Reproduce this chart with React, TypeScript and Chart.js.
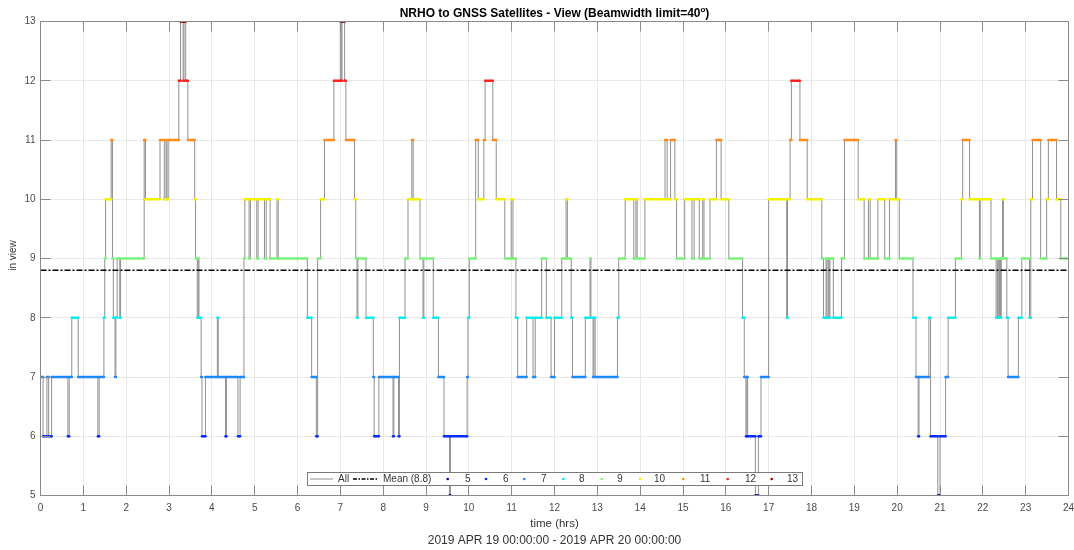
import React, { useEffect, useRef } from 'react';
import { Chart, registerables } from 'chart.js';

Chart.register(...registerables);

// ---------- data ----------
// start time (hours) of each constant-count run, and the count of satellites in view during it
const runStart = [
  0.00, 0.06, 0.15, 0.19, 0.26, 0.64, 0.67, 0.73, 0.88, 1.34, 1.37, 1.48, 1.50, 1.52, 1.65, 1.68, 1.70, 1.74, 1.76, 1.79,
  1.85, 1.87, 2.42, 2.45, 2.79, 2.89, 2.93, 2.95, 2.98, 3.23, 3.27, 3.33, 3.35, 3.39, 3.44, 3.60, 3.62, 3.66, 3.68, 3.70,
  3.75, 3.77, 3.85, 4.13, 4.15, 4.32, 4.34, 4.61, 4.66, 4.75, 4.77, 4.87, 4.90, 5.05, 5.08, 5.23, 5.27, 5.36, 5.52, 5.55,
  6.23, 6.33, 6.44, 6.47, 6.54, 6.63, 6.85, 7.00, 7.02, 7.04, 7.10, 7.13, 7.33, 7.36, 7.39, 7.41, 7.60, 7.77, 7.79, 7.90,
  8.23, 8.25, 8.36, 8.38, 8.51, 8.58, 8.67, 8.70, 8.86, 8.93, 8.95, 9.17, 9.29, 9.42, 9.55, 9.57, 9.96, 9.98, 10.01, 10.16,
  10.22, 10.35, 10.38, 10.56, 10.64, 10.84, 10.99, 11.03, 11.10, 11.14, 11.35, 11.50, 11.55, 11.70, 11.81, 11.92, 12.00, 12.17, 12.27, 12.30,
  12.39, 12.42, 12.72, 12.83, 12.85, 12.90, 12.92, 12.95, 13.47, 13.50, 13.65, 13.85, 13.90, 13.93, 14.11, 14.58, 14.63, 14.71, 14.81, 14.85,
  15.04, 15.21, 15.26, 15.38, 15.46, 15.49, 15.63, 15.78, 15.89, 16.07, 16.39, 16.43, 16.47, 16.49, 16.51, 16.69, 16.76, 16.82, 17.00, 17.42,
  17.44, 17.50, 17.53, 17.73, 17.90, 18.24, 18.28, 18.34, 18.36, 18.39, 18.41, 18.43, 18.51, 18.70, 18.77, 19.09, 19.23, 19.33, 19.37, 19.55,
  19.71, 19.82, 19.96, 19.98, 20.05, 20.37, 20.44, 20.49, 20.51, 20.74, 20.78, 20.95, 21.00, 21.13, 21.19, 21.36, 21.50, 21.53, 21.69, 21.92,
  21.94, 22.19, 22.31, 22.34, 22.36, 22.39, 22.41, 22.43, 22.46, 22.48, 22.56, 22.59, 22.83, 22.91, 23.09, 23.12, 23.16, 23.35, 23.49, 23.53,
  23.72, 23.82,
];
const runLevel = [
  7, 6, 7, 6, 7, 6, 7, 8, 7, 6, 7, 8, 9, 10, 11, 9, 8, 7, 8, 9,
  8, 9, 11, 10, 11, 10, 11, 10, 11, 12, 13, 12, 13, 12, 11, 10, 9, 8, 9, 8,
  7, 6, 7, 8, 7, 6, 7, 6, 7, 9, 10, 9, 10, 9, 10, 9, 10, 9, 10, 9,
  8, 7, 6, 9, 10, 11, 12, 13, 12, 13, 12, 11, 10, 9, 8, 9, 8, 7, 6, 7,
  6, 7, 6, 8, 9, 10, 11, 10, 9, 8, 9, 8, 7, 6, 5, 6, 7, 8, 9, 11,
  10, 11, 12, 11, 10, 9, 10, 9, 8, 7, 8, 7, 8, 9, 8, 7, 8, 9, 10, 9,
  8, 7, 8, 9, 8, 7, 8, 7, 8, 9, 10, 9, 10, 9, 10, 11, 10, 11, 10, 9,
  10, 9, 10, 9, 10, 9, 10, 11, 10, 9, 8, 7, 6, 7, 6, 5, 6, 7, 10, 8,
  10, 11, 12, 11, 10, 9, 8, 9, 8, 9, 8, 9, 8, 9, 11, 10, 9, 10, 9, 10,
  9, 10, 11, 10, 9, 8, 7, 6, 7, 8, 6, 5, 6, 7, 8, 9, 10, 11, 10, 9,
  10, 9, 8, 9, 8, 9, 8, 9, 10, 9, 8, 7, 8, 9, 8, 10, 11, 9, 10, 11,
  10, 9,
];
const endTime = 24;
const meanValue = 8.8;
const levels = [5, 6, 7, 8, 9, 10, 11, 12, 13];
const levelColors = ['#0000a8', '#0a2bff', '#1e88ff', '#00eeee', '#7cf27c', '#f2f200', '#ff8c1a', '#ff2020', '#a00000'];
const xTickValues = [0, 1, 2, 3, 4, 5, 6, 7, 8, 9, 10, 11, 12, 13, 14, 15, 16, 17, 18, 19, 20, 21, 22, 23, 24];
const yTickValues = [5, 6, 7, 8, 9, 10, 11, 12, 13];
const titleMain = 'NRHO to GNSS Satellites - View (Beamwidth limit=40';
const titleSup = 'o';
const titleEnd = ')';
const xLabel = 'time (hrs)';
const xSubLabel = '2019 APR 19 00:00:00 - 2019 APR 20 00:00:00';
const yLabel = 'in view';
const allLabel = 'All';
const meanLabel = `Mean (${meanValue.toFixed(1)})`;

// ---------- styling ----------
const FONT = "'Liberation Sans', Arial, Helvetica, sans-serif";
const AXIS_COLOR = '#8a8a8a';
const TEXT_COLOR = '#333333';
const TICK_TEXT = '#4a4a4a';
const GRID_COLOR = '#e8e8e8';
const ALL_COLOR = '#8f8f8f';
const TICK_LEN = 10;

const decorPlugin = {
  id: 'matlabDecor',
  afterDraw(chart: any) {
    const { ctx, chartArea: a, scales } = chart;
    const xs = scales.x;
    const ys = scales.y;
    const align = (p: number) => Math.round(p - 0.5) + 0.5;
    ctx.save();

    // axes box
    ctx.strokeStyle = AXIS_COLOR;
    ctx.lineWidth = 1;
    ctx.strokeRect(a.left, a.top, a.right - a.left, a.bottom - a.top);

    // inward ticks on all four sides
    ctx.beginPath();
    xTickValues.forEach((v) => {
      const px = align(xs.getPixelForValue(v));
      ctx.moveTo(px, a.bottom);
      ctx.lineTo(px, a.bottom - TICK_LEN);
      ctx.moveTo(px, a.top);
      ctx.lineTo(px, a.top + TICK_LEN);
    });
    yTickValues.forEach((v) => {
      const py = align(ys.getPixelForValue(v));
      ctx.moveTo(a.left, py);
      ctx.lineTo(a.left + TICK_LEN, py);
      ctx.moveTo(a.right, py);
      ctx.lineTo(a.right - TICK_LEN, py);
    });
    ctx.stroke();

    // tick labels
    ctx.fillStyle = TICK_TEXT;
    ctx.font = `10px ${FONT}`;
    ctx.textAlign = 'center';
    ctx.textBaseline = 'middle';
    xTickValues.forEach((v) => {
      ctx.fillText(String(v), xs.getPixelForValue(v), a.bottom + 13);
    });
    ctx.textAlign = 'right';
    yTickValues.forEach((v) => {
      ctx.fillText(String(v), a.left - 5, ys.getPixelForValue(v));
    });

    // title with superscript degree mark
    const cx = (a.left + a.right) / 2;
    ctx.fillStyle = '#000000';
    ctx.textBaseline = 'alphabetic';
    ctx.textAlign = 'left';
    ctx.font = `bold 12px ${FONT}`;
    const w1 = ctx.measureText(titleMain).width;
    const w3 = ctx.measureText(titleEnd).width;
    ctx.font = `bold 8px ${FONT}`;
    const w2 = ctx.measureText(titleSup).width;
    let tx = cx - (w1 + w2 + w3) / 2;
    const ty = 17;
    ctx.font = `bold 12px ${FONT}`;
    ctx.fillText(titleMain, tx, ty);
    tx += w1;
    ctx.font = `bold 8px ${FONT}`;
    ctx.fillText(titleSup, tx, ty - 5);
    tx += w2;
    ctx.font = `bold 12px ${FONT}`;
    ctx.fillText(titleEnd, tx, ty);

    // axis labels
    ctx.fillStyle = TEXT_COLOR;
    ctx.textAlign = 'center';
    ctx.textBaseline = 'middle';
    ctx.font = `11.5px ${FONT}`;
    ctx.fillText(xLabel, cx, 524);
    ctx.font = `12px ${FONT}`;
    ctx.fillText(xSubLabel, cx, 541);
    ctx.save();
    ctx.translate(13, (a.top + a.bottom) / 2 - 3);
    ctx.rotate(-Math.PI / 2);
    ctx.font = `10px ${FONT}`;
    ctx.fillText(yLabel, 0, 0);
    ctx.restore();

    // legend (inside the axes, bottom centre)
    const bx = 307.5, by = 472.5, bw = 495, bh = 13;
    const cy = by + bh / 2;
    ctx.fillStyle = '#ffffff';
    ctx.fillRect(bx, by, bw, bh);
    ctx.strokeStyle = '#7a7a7a';
    ctx.lineWidth = 1;
    ctx.strokeRect(bx, by, bw, bh);

    ctx.font = `10px ${FONT}`;
    ctx.textAlign = 'left';
    ctx.textBaseline = 'middle';
    // All
    ctx.strokeStyle = ALL_COLOR;
    ctx.lineWidth = 1;
    ctx.beginPath();
    ctx.moveTo(310, cy);
    ctx.lineTo(333, cy);
    ctx.stroke();
    ctx.fillStyle = TEXT_COLOR;
    ctx.fillText(allLabel, 338, cy + 0.5);
    // Mean
    ctx.strokeStyle = '#000000';
    ctx.lineWidth = 1.5;
    ctx.setLineDash([4, 1.5, 1.5, 1.5]);
    ctx.beginPath();
    ctx.moveTo(353, cy);
    ctx.lineTo(378, cy);
    ctx.stroke();
    ctx.setLineDash([]);
    ctx.fillText(meanLabel, 383, cy + 0.5);
    // levels
    const dotX = [447.7, 486, 524.3, 563.3, 601.7, 640, 683.3, 727.7, 771.7];
    const textX = [465, 503, 541, 579, 617, 654, 700, 745, 787];
    levels.forEach((lv, i) => {
      ctx.fillStyle = levelColors[i];
      ctx.beginPath();
      ctx.arc(dotX[i], cy, 1.3, 0, Math.PI * 2);
      ctx.fill();
      ctx.fillStyle = TEXT_COLOR;
      ctx.fillText(String(lv), textX[i], cy + 0.5);
    });

    ctx.restore();
  },
};

export default function App() {
  const canvasRef = useRef<HTMLCanvasElement | null>(null);

  useEffect(() => {
    if (!canvasRef.current) return;

    const runEnd = runStart.map((t, i) => (i + 1 < runStart.length ? runStart[i + 1] : endTime));

    const allData = runStart.map((t, i) => ({ x: t, y: runLevel[i] }));
    allData.push({ x: endTime, y: runLevel[runLevel.length - 1] });

    const levelSets = levels.map((lv, li) => {
      const pts: { x: number; y: number | null }[] = [];
      runStart.forEach((t, i) => {
        if (runLevel[i] === lv) {
          pts.push({ x: t, y: lv });
          pts.push({ x: runEnd[i], y: lv });
          pts.push({ x: runEnd[i], y: null });
        }
      });
      return {
        label: String(lv),
        data: pts,
        borderColor: levelColors[li],
        backgroundColor: levelColors[li],
        borderWidth: 2.6,
        pointRadius: 1.3,
        pointBorderWidth: 0,
        pointBackgroundColor: levelColors[li],
        spanGaps: false,
        borderCapStyle: 'butt' as const,
      };
    });

    const chart = new Chart(canvasRef.current, {
      type: 'line',
      data: {
        datasets: [
          ...levelSets,
          {
            label: meanLabel,
            data: [
              { x: 0, y: meanValue },
              { x: endTime, y: meanValue },
            ],
            borderColor: '#000000',
            borderWidth: 1.5,
            borderDash: [6, 2, 2, 2],
            pointRadius: 0,
          },
          {
            label: allLabel,
            data: allData,
            borderColor: ALL_COLOR,
            borderWidth: 1,
            pointRadius: 0,
            stepped: 'before' as const,
          },
        ],
      },
      options: {
        animation: false,
        responsive: false,
        maintainAspectRatio: false,
        events: [],
        layout: { padding: { top: 21.5, right: 5.5, left: 0, bottom: 0 } },
        plugins: {
          legend: { display: false },
          title: { display: false },
          tooltip: { enabled: false },
        },
        scales: {
          x: {
            type: 'linear',
            min: 0,
            max: endTime,
            afterBuildTicks: (s: any) => {
              s.ticks = xTickValues.map((v) => ({ value: v }));
            },
            afterFit: (s: any) => {
              s.height = 54.5;
              s.paddingLeft = 0;
              s.paddingRight = 0;
            },
            grid: { color: GRID_COLOR, drawTicks: false },
            border: { display: false },
            ticks: { display: false },
          },
          y: {
            type: 'linear',
            min: 5,
            max: 13,
            afterBuildTicks: (s: any) => {
              s.ticks = yTickValues.map((v) => ({ value: v }));
            },
            afterFit: (s: any) => {
              s.width = 40.5;
              s.paddingTop = 0;
              s.paddingBottom = 0;
            },
            grid: { color: GRID_COLOR, drawTicks: false },
            border: { display: false },
            ticks: { display: false },
          },
        },
      },
      plugins: [decorPlugin],
    });

    return () => chart.destroy();
  }, []);

  return (
    <div style={{ position: 'absolute', left: 0, top: 0, width: 1074, height: 550, background: '#ffffff' }}>
      <canvas ref={canvasRef} width={1074} height={550} style={{ display: 'block' }} />
    </div>
  );
}
